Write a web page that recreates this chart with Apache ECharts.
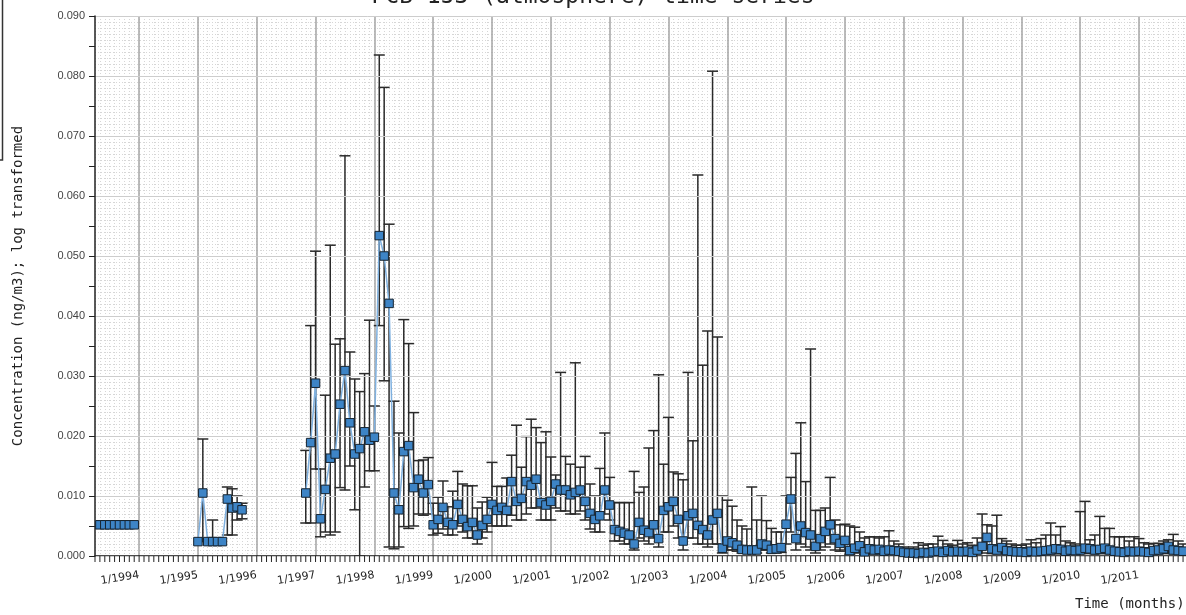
<!DOCTYPE html>
<html>
<head>
<meta charset="utf-8">
<script src="https://cdn.jsdelivr.net/npm/echarts@6/dist/echarts.min.js"></script>
<style>
  html, body { margin: 0; padding: 0; background: #fff; }
  #chart { width: 1186px; height: 615px; }
</style>
</head>
<body>
<div id="chart"></div>
<script>
// monthly means, first entry = May 1993, null = no sample that month
const conc = [
  0.0052, 0.0052, 0.0052, 0.0052, 0.0052, 0.0052, 0.0052, 0.0052,                  // 1993 May-Dec
  null, null, null, null, null, null, null, null, null, null, null, null,          // 1994
  0.0024, 0.0105, 0.0024, 0.0024, 0.0024, 0.0024, 0.0095, 0.0080, 0.0082, 0.0077, null, null, // 1995
  null, null, null, null, null, null, null, null, null, null, 0.0105, 0.0189,      // 1996
  0.0288, 0.0062, 0.0111, 0.0163, 0.0170, 0.0253, 0.0309, 0.0222, 0.0170, 0.0179, 0.0207, 0.0193, // 1997
  0.0198, 0.0534, 0.0500, 0.0421, 0.0105, 0.0077, 0.0174, 0.0184, 0.0114, 0.0128, 0.0105, 0.0119, // 1998
  0.0052, 0.0061, 0.0081, 0.0056, 0.0052, 0.0086, 0.0061, 0.0049, 0.0056, 0.0035, 0.0051, 0.0061, // 1999
  0.0086, 0.0076, 0.0081, 0.0076, 0.0124, 0.0091, 0.0096, 0.0124, 0.0118, 0.0128, 0.0089, 0.0085, // 2000
  0.0091, 0.0120, 0.0110, 0.0110, 0.0102, 0.0106, 0.0110, 0.0091, 0.0071, 0.0061, 0.0067, 0.0110, // 2001
  0.0085, 0.0044, 0.0041, 0.0038, 0.0035, 0.0020, 0.0056, 0.0043, 0.0039, 0.0052, 0.0029, 0.0076, // 2002
  0.0082, 0.0091, 0.0061, 0.0025, 0.0067, 0.0071, 0.0051, 0.0044, 0.0035, 0.0060, 0.0071, 0.0013, // 2003
  0.0025, 0.0022, 0.0018, 0.0011, 0.0010, 0.0010, 0.0010, 0.0020, 0.0018, 0.0011, 0.0012, 0.0014, // 2004
  0.0053, 0.0095, 0.0029, 0.0050, 0.0039, 0.0035, 0.0016, 0.0029, 0.0041, 0.0052, 0.0029, 0.0021, // 2005
  0.0026, 0.0009, 0.0013, 0.0017, 0.0007, 0.0012, 0.0010, 0.0011, 0.0008, 0.0010, 0.0009, 0.0008, // 2006
  0.0006, 0.0005, 0.0005, 0.0004, 0.0006, 0.0005, 0.0007, 0.0008, 0.0006, 0.0009, 0.0007, 0.0008, // 2007
  0.0007, 0.0008, 0.0006, 0.0010, 0.0016, 0.0031, 0.0012, 0.0010, 0.0014, 0.0009, 0.0008, 0.0007, // 2008
  0.0007, 0.0006, 0.0008, 0.0007, 0.0008, 0.0009, 0.0010, 0.0012, 0.0011, 0.0008, 0.0010, 0.0009, // 2009
  0.0010, 0.0013, 0.0012, 0.0010, 0.0011, 0.0013, 0.0010, 0.0008, 0.0007, 0.0006, 0.0008, 0.0007, // 2010
  0.0008, 0.0007, 0.0006, 0.0009, 0.0010, 0.0012, 0.0016, 0.0010, 0.0009, 0.0008                  // 2011 Jan-Oct
];

// lower end of the error bars, same months
const lowerBound = [
  null, null, null, null, null, null, null, null,
  null, null, null, null, null, null, null, null, null, null, null, null,
  null, 0.0024, null, 0.0024, null, null, 0.0035, 0.0035, 0.0060, 0.0062, null, null,
  null, null, null, null, null, null, null, null, null, null, 0.0055, 0.0055,
  0.0145, 0.0032, 0.0040, 0.0035, 0.0040, 0.0114, 0.0110, 0.0150, 0.0077, 0.0000, 0.0115, 0.0142,
  0.0142, 0.0384, 0.0292, 0.0015, 0.0012, 0.0015, 0.0049, 0.0046, 0.0050, 0.0070, 0.0068, 0.0070,
  0.0035, 0.0038, 0.0045, 0.0035, 0.0035, 0.0050, 0.0040, 0.0030, 0.0030, 0.0020, 0.0030, 0.0040,
  0.0050, 0.0050, 0.0050, 0.0050, 0.0068, 0.0060, 0.0060, 0.0070, 0.0080, 0.0080, 0.0060, 0.0060,
  0.0060, 0.0080, 0.0075, 0.0075, 0.0070, 0.0070, 0.0075, 0.0060, 0.0045, 0.0040, 0.0040, 0.0070,
  0.0060, 0.0025, 0.0025, 0.0020, 0.0020, 0.0010, 0.0030, 0.0025, 0.0020, 0.0030, 0.0015, 0.0040,
  0.0040, 0.0050, 0.0030, 0.0010, 0.0030, 0.0030, 0.0020, 0.0020, 0.0015, 0.0020, 0.0020, 0.0005,
  0.0010, 0.0010, 0.0008, 0.0005, 0.0005, 0.0005, 0.0005, 0.0010, 0.0010, 0.0005, 0.0005, 0.0006,
  0.0020, 0.0040, 0.0010, 0.0020, 0.0015, 0.0010, 0.0005, 0.0010, 0.0015, 0.0020, 0.0010, 0.0008,
  0.0010, 0.0003, 0.0005, 0.0006, 0.0003, 0.0005, 0.0004, 0.0004, 0.0003, 0.0004, 0.0004, 0.0003,
  0.0002, 0.0002, 0.0002, 0.0002, 0.0002, 0.0002, 0.0003, 0.0003, 0.0002, 0.0003, 0.0003, 0.0003,
  0.0003, 0.0003, 0.0002, 0.0004, 0.0005, 0.0012, 0.0004, 0.0004, 0.0005, 0.0003, 0.0003, 0.0003,
  0.0003, 0.0002, 0.0003, 0.0003, 0.0003, 0.0003, 0.0004, 0.0004, 0.0004, 0.0003, 0.0004, 0.0003,
  0.0004, 0.0005, 0.0004, 0.0004, 0.0004, 0.0005, 0.0004, 0.0003, 0.0003, 0.0002, 0.0003, 0.0003,
  0.0003, 0.0003, 0.0002, 0.0003, 0.0004, 0.0004, 0.0006, 0.0004, 0.0003, 0.0003
];

// upper end of the error bars
const upperBound = [
  null, null, null, null, null, null, null, null,
  null, null, null, null, null, null, null, null, null, null, null, null,
  null, 0.0195, null, 0.0060, null, null, 0.0115, 0.0112, 0.0100, 0.0088, null, null,
  null, null, null, null, null, null, null, null, null, null, 0.0176, 0.0384,
  0.0508, 0.0145, 0.0268, 0.0518, 0.0353, 0.0362, 0.0667, 0.0340, 0.0295, 0.0274, 0.0304, 0.0393,
  0.0250, 0.0835, 0.0781, 0.0553, 0.0258, 0.0205, 0.0394, 0.0354, 0.0239, 0.0159, 0.0160, 0.0164,
  0.0088, 0.0098, 0.0125, 0.0082, 0.0108, 0.0141, 0.0120, 0.0117, 0.0117, 0.0080, 0.0090, 0.0098,
  0.0156, 0.0116, 0.0116, 0.0130, 0.0168, 0.0218, 0.0148, 0.0199, 0.0228, 0.0214, 0.0189, 0.0207,
  0.0165, 0.0135, 0.0306, 0.0166, 0.0153, 0.0322, 0.0148, 0.0166, 0.0120, 0.0100, 0.0146, 0.0205,
  0.0131, 0.0089, 0.0089, 0.0089, 0.0089, 0.0141, 0.0106, 0.0115, 0.0180, 0.0209, 0.0302, 0.0153,
  0.0231, 0.0140, 0.0137, 0.0127, 0.0306, 0.0192, 0.0635, 0.0318, 0.0375, 0.0808, 0.0365, 0.0100,
  0.0093, 0.0083, 0.0060, 0.0050, 0.0045, 0.0115, 0.0060, 0.0100, 0.0059, 0.0046, 0.0040, 0.0040,
  0.0100, 0.0131, 0.0171, 0.0222, 0.0124, 0.0345, 0.0076, 0.0076, 0.0080, 0.0131, 0.0060, 0.0052,
  0.0053, 0.0050, 0.0048, 0.0040, 0.0030, 0.0032, 0.0032, 0.0030, 0.0032, 0.0042, 0.0025, 0.0020,
  0.0015, 0.0012, 0.0015, 0.0022, 0.0018, 0.0020, 0.0020, 0.0033, 0.0026, 0.0020, 0.0018, 0.0026,
  0.0020, 0.0022, 0.0018, 0.0030, 0.0070, 0.0052, 0.0050, 0.0068, 0.0029, 0.0025, 0.0020, 0.0018,
  0.0018, 0.0020, 0.0027, 0.0022, 0.0029, 0.0035, 0.0055, 0.0035, 0.0049, 0.0025, 0.0022, 0.0020,
  0.0074, 0.0091, 0.0027, 0.0035, 0.0066, 0.0046, 0.0046, 0.0032, 0.0032, 0.0032, 0.0025, 0.0032,
  0.0029, 0.0022, 0.0020, 0.0021, 0.0021, 0.0025, 0.0027, 0.0036, 0.0025, 0.0020
];

const yearLabels = ['1/1994', '1/1995', '1/1996', '1/1997', '1/1998', '1/1999', '1/2000', '1/2001',
  '1/2002', '1/2003', '1/2004', '1/2005', '1/2006', '1/2007', '1/2008', '1/2009', '1/2010', '1/2011'];

// x = months counted from Jan 1994; first sample is May 1993
const firstMonth = -8;

// axis runs from Apr 1993 to late 2011
const xMin = -9;
const xMax = 213.6;

const months = conc.map((_, i) => firstMonth + i);
const yearTicks = yearLabels.map((_, i) => i * 12);
const lineData = conc.map((v, i) => [months[i], v == null ? '-' : v]);
const barData = [];
conc.forEach((v, i) => {
  if (lowerBound[i] != null && upperBound[i] != null) {
    barData.push([months[i], lowerBound[i], upperBound[i]]);
  }
});
// one small tick under the axis for every month
const monthTicks = [];
for (let m = xMin; m <= Math.floor(xMax); m++) monthTicks.push([m, 0]);

const chart = echarts.init(document.getElementById('chart'), null, { renderer: 'canvas' });

const axisFont = 'DejaVu Sans Mono';

const option = {
  animation: false,
  backgroundColor: '#fff',
  grid: { left: 95, right: 0, top: 16, bottom: 59 },
  xAxis: [
    {
      // month axis: line and dotted monthly grid
      type: 'value',
      min: xMin,
      max: xMax,
      interval: 1,
      position: 'bottom',
      axisLine: { show: true, onZero: false, lineStyle: { color: '#111', width: 1.5 } },
      axisTick: { show: false },
      axisLabel: { show: false },
      splitLine: { show: true, lineStyle: { color: '#d6d6d6', width: 1, type: [1, 2] } }
    },
    {
      // year axis: labels and the solid yearly grid lines
      type: 'value',
      min: xMin,
      max: xMax,
      position: 'bottom',
      axisLine: { show: false, onZero: false },
      axisTick: { show: false, customValues: yearTicks },
      axisLabel: {
        customValues: yearTicks,
        formatter: (v) => yearLabels[Math.round(v / 12)],
        rotate: 9,
        margin: 19,
        color: '#222',
        fontFamily: 'DejaVu Sans',
        fontSize: 11
      },
      splitLine: { show: true, lineStyle: { color: '#a4a4a4', width: 1.5 } }
    }
  ],
  yAxis: [
    {
      type: 'value',
      min: 0,
      max: 0.09,
      interval: 0.01,
      name: 'Concentration (ng/m3); log transformed',
      nameLocation: 'middle',
      nameGap: 70,
      nameTextStyle: { fontFamily: axisFont, fontSize: 14, color: '#222' },
      axisLine: { show: true, onZero: false, lineStyle: { color: '#222', width: 1.5 } },
      axisTick: { show: true, length: 6, lineStyle: { color: '#222' } },
      minorTick: { show: true, splitNumber: 2, length: 6, lineStyle: { color: '#222' } },
      axisLabel: {
        formatter: (v) => v.toFixed(3),
        margin: 10,
        color: '#444',
        fontFamily: 'Liberation Sans',
        fontSize: 11
      },
      splitLine: { show: true, lineStyle: { color: '#cdcdcd', width: 1 } },
      z: 3
    },
    {
      type: 'value',
      min: 0,
      max: 0.09,
      interval: 0.001,
      position: 'right',
      axisLine: { show: false },
      axisTick: { show: false },
      axisLabel: { show: false },
      splitLine: { show: true, lineStyle: { color: '#d6d6d6', width: 1, type: [1, 2] } }
    }
  ],
  series: [
    {
      // month ticks below the time axis
      type: 'custom',
      name: 'monthTicks',
      xAxisIndex: 0,
      yAxisIndex: 0,
      data: monthTicks,
      clip: false,
      silent: true,
      z: 5,
      renderItem: (params, api) => {
        const p = api.coord([api.value(0), 0]);
        return {
          type: 'line',
          shape: { x1: p[0], y1: p[1], x2: p[0], y2: p[1] + 6 },
          style: { stroke: '#222', lineWidth: 1 }
        };
      }
    },
    {
      type: 'custom',
      name: 'range',
      xAxisIndex: 0,
      yAxisIndex: 0,
      data: barData,
      encode: { x: 0, y: [1, 2] },
      z: 2,
      renderItem: (params, api) => {
        const x = api.value(0);
        const lo = api.coord([x, api.value(1)]);
        const hi = api.coord([x, api.value(2)]);
        const cap = 5.5;
        const style = { stroke: '#2a2a2a', lineWidth: 1.5 };
        return {
          type: 'group',
          children: [
            { type: 'line', shape: { x1: lo[0], y1: lo[1], x2: hi[0], y2: hi[1] }, style },
            { type: 'line', shape: { x1: hi[0] - cap, y1: hi[1], x2: hi[0] + cap, y2: hi[1] }, style },
            { type: 'line', shape: { x1: lo[0] - cap, y1: lo[1], x2: lo[0] + cap, y2: lo[1] }, style }
          ]
        };
      }
    },
    {
      type: 'line',
      name: 'concentration',
      xAxisIndex: 0,
      yAxisIndex: 0,
      data: lineData,
      connectNulls: false,
      symbol: 'rect',
      symbolSize: 8.5,
      showSymbol: true,
      z: 4,
      lineStyle: { color: '#7fb1e0', width: 1.5 },
      itemStyle: { color: '#3d84c6', borderColor: '#16232f', borderWidth: 1 }
    }
  ],
  graphic: [
    {
      type: 'text',
      left: 'center',
      top: -14,
      style: { text: 'PCB 153 (atmosphere) time series', fontFamily: axisFont, fontSize: 23, fill: '#222' }
    },
    {
      type: 'text',
      left: 1075,
      top: 597,
      style: { text: 'Time (months)', fontFamily: axisFont, fontSize: 14, fill: '#222' }
    },
    {
      type: 'polyline',
      shape: { points: [[2.5, 0], [2.5, 160], [0, 160]] },
      style: { stroke: '#333', lineWidth: 1.5, fill: null }
    }
  ]
};

chart.setOption(option);
</script>
</body>
</html>
